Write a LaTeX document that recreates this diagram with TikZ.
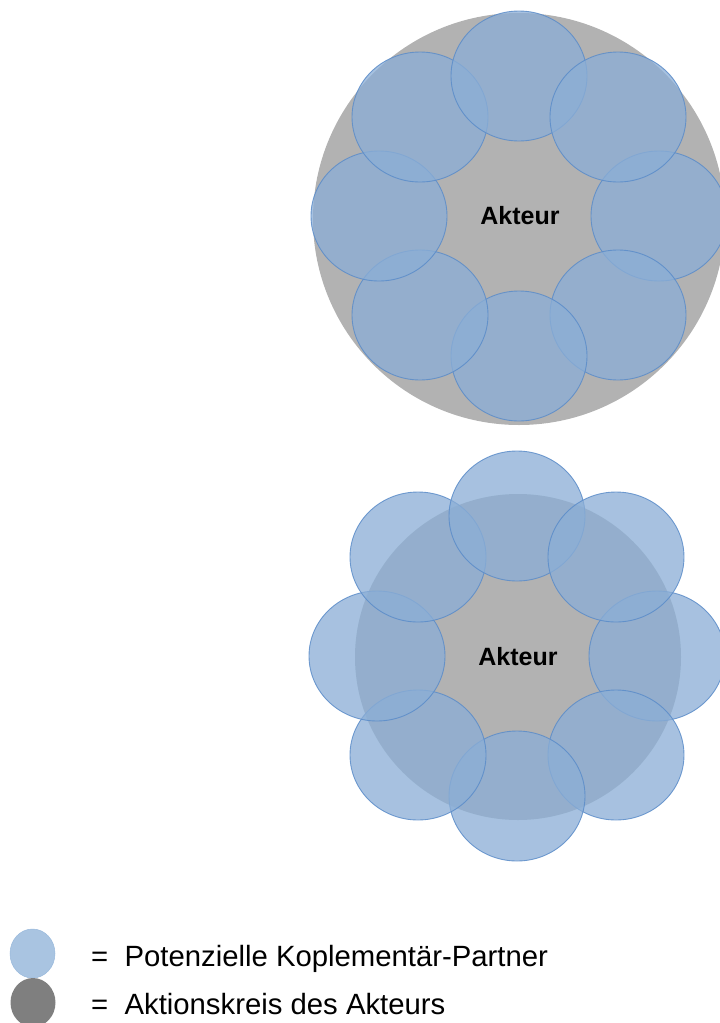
\documentclass[tikz,border=0pt]{standalone}
\usepackage{fontspec}
\setmainfont{Liberation Sans}
\usetikzlibrary{positioning}
\definecolor{actiongray}{HTML}{B2B2B2}
\definecolor{partnerblue}{HTML}{8BAED6}
\definecolor{partnerline}{HTML}{5B8CC9}
\definecolor{legendblue}{HTML}{A9C4E1}
\definecolor{legendgray}{HTML}{7F7F7F}

\begin{document}
\begin{tikzpicture}[x=1pt, y=-1pt,
        partner/.style={fill=partnerblue,
        fill opacity=0.76,
        draw=partnerline,
        draw opacity=0.85,
        line width=0.9pt},
        actor/.style={font=\bfseries\fontsize{25}{29}\selectfont,
        inner sep=0pt,
        anchor=base},
        legendtext/.style={font=\fontsize{29.3}{35}\selectfont,
        inner sep=0pt,
        anchor=base west}]
        \path[use as bounding box] (0,0) rectangle (720,1023);
        \clip (0,0) rectangle (720,1023);
        \fill[actiongray] (519,219) circle[radius=206];
        \foreach \a in {0,45,...,315}
            \draw[partner] (519,216) ++(\a:140) ellipse[x radius=68, y radius=65];
        \node[actor] at (520,224) (akteurOben) {Akteur};
        \fill[actiongray] (518,657) circle[radius=163];
        \foreach \a in {0,45,...,315}
            \draw[partner] (517,656) ++(\a:140) ellipse[x radius=68, y radius=65];
        \node[actor] at (518,665) (akteurUnten) {Akteur};
        \draw[fill=legendblue, draw=legendblue!80!partnerline, line width=0.5pt] (32.5,953.5) ellipse[x radius=22.5, y radius=24.5];
        \fill[legendgray] (33,1002.5) ellipse[x radius=22.5, y radius=24.5];
        \node[legendtext] at (91,966) (partnerLegende) {=~~Potenzielle Koplementär-Partner};
        \node[legendtext] at (91,1014) (aktionLegende) {=~~Aktionskreis des Akteurs};
    \end{tikzpicture}
\end{document}
